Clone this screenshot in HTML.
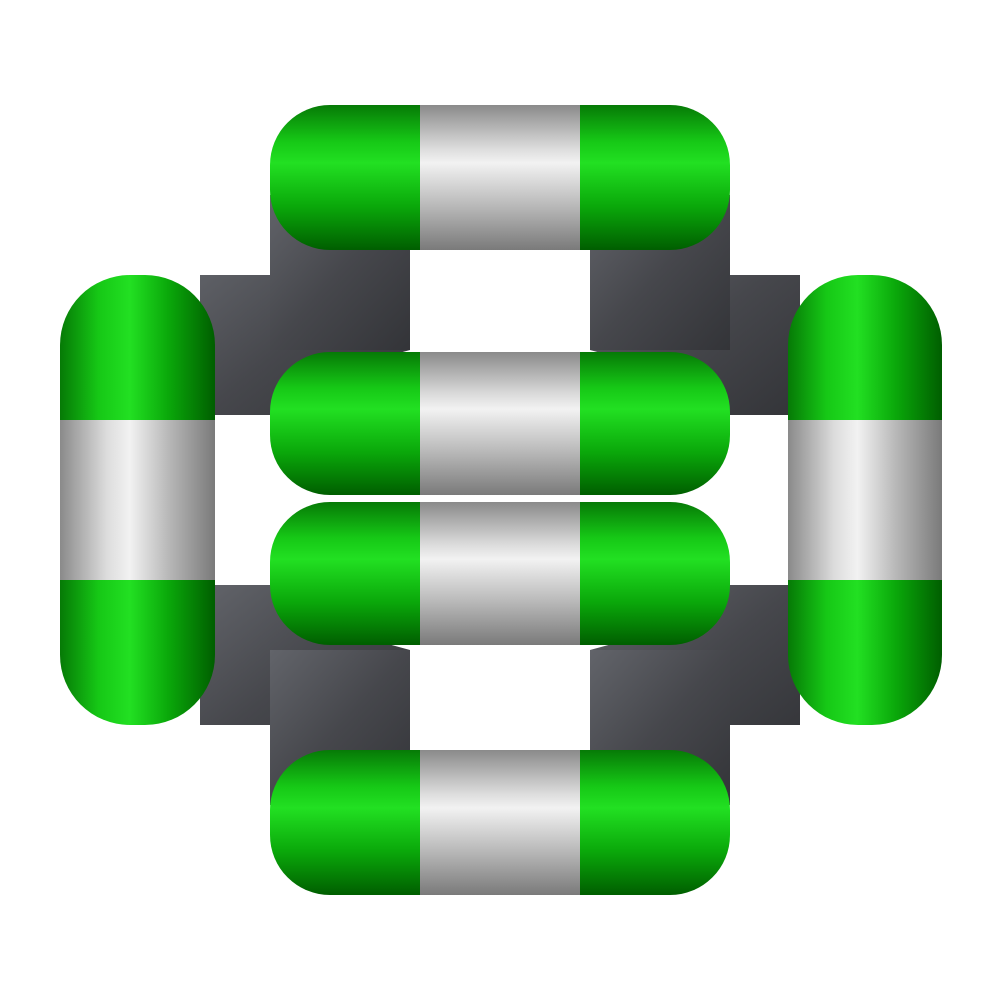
<!DOCTYPE html>
<html><head><meta charset="utf-8"><style>html,body{margin:0;padding:0;background:#fff}svg{display:block}</style></head>
<body>
<svg width="1000" height="1000" viewBox="0 0 1000 1000" xmlns="http://www.w3.org/2000/svg">
<defs>
<linearGradient id="gh" x1="0" y1="0" x2="0" y2="1">
<stop offset="0" stop-color="#067a06"/><stop offset="0.25" stop-color="#16c816"/><stop offset="0.4" stop-color="#22e022"/><stop offset="0.7" stop-color="#0aa80a"/><stop offset="1" stop-color="#005e00"/></linearGradient>
<linearGradient id="sh" x1="0" y1="0" x2="0" y2="1">
<stop offset="0" stop-color="#8a8a8a"/><stop offset="0.3" stop-color="#dcdcdc"/><stop offset="0.4" stop-color="#f2f2f2"/><stop offset="0.7" stop-color="#b8b8b8"/><stop offset="1" stop-color="#7a7a7a"/></linearGradient>
<linearGradient id="gv" x1="0" y1="0" x2="1" y2="0">
<stop offset="0" stop-color="#067a06"/><stop offset="0.25" stop-color="#16c816"/><stop offset="0.45" stop-color="#22e022"/><stop offset="0.7" stop-color="#0aa80a"/><stop offset="1" stop-color="#005e00"/></linearGradient>
<linearGradient id="sv" x1="0" y1="0" x2="1" y2="0">
<stop offset="0" stop-color="#8a8a8a"/><stop offset="0.3" stop-color="#dcdcdc"/><stop offset="0.45" stop-color="#f2f2f2"/><stop offset="0.7" stop-color="#b8b8b8"/><stop offset="1" stop-color="#7a7a7a"/></linearGradient>
<linearGradient id="dk" x1="0" y1="0" x2="1" y2="1">
<stop offset="0" stop-color="#62646a"/><stop offset="0.5" stop-color="#46474c"/><stop offset="1" stop-color="#333438"/></linearGradient>
</defs>
<g fill="url(#dk)">
<path d="M200 275 H300 L410 250 V350 L300 380 V415 H200 Z"/>
<path d="M270 195 H410 V350 H270 Z"/>
<path d="M800 275 H700 L590 250 V350 L700 380 V415 H800 Z"/>
<path d="M590 195 H730 V350 H590 Z"/>
<path d="M200 725 H300 L410 750 V650 L300 620 V585 H200 Z"/>
<path d="M270 805 H410 V650 H270 Z"/>
<path d="M800 725 H700 L590 750 V650 L700 620 V585 H800 Z"/>
<path d="M590 805 H730 V650 H590 Z"/>
</g>
<g>
<rect x="60" y="275" width="155" height="450" rx="70" fill="url(#gv)"/>
<rect x="60" y="420" width="155" height="160" fill="url(#sv)"/>
</g>
<g>
<rect x="788" y="275" width="154" height="450" rx="70" fill="url(#gv)"/>
<rect x="788" y="420" width="154" height="160" fill="url(#sv)"/>
</g>
<g>
<rect x="270" y="105" width="460" height="145" rx="60" fill="url(#gh)"/>
<rect x="420" y="105" width="160" height="145" fill="url(#sh)"/>
</g>
<g>
<rect x="270" y="352" width="460" height="143" rx="60" fill="url(#gh)"/>
<rect x="420" y="352" width="160" height="143" fill="url(#sh)"/>
</g>
<g>
<rect x="270" y="502" width="460" height="143" rx="60" fill="url(#gh)"/>
<rect x="420" y="502" width="160" height="143" fill="url(#sh)"/>
</g>
<g>
<rect x="270" y="750" width="460" height="145" rx="60" fill="url(#gh)"/>
<rect x="420" y="750" width="160" height="145" fill="url(#sh)"/>
</g>
</svg>
</body></html>
